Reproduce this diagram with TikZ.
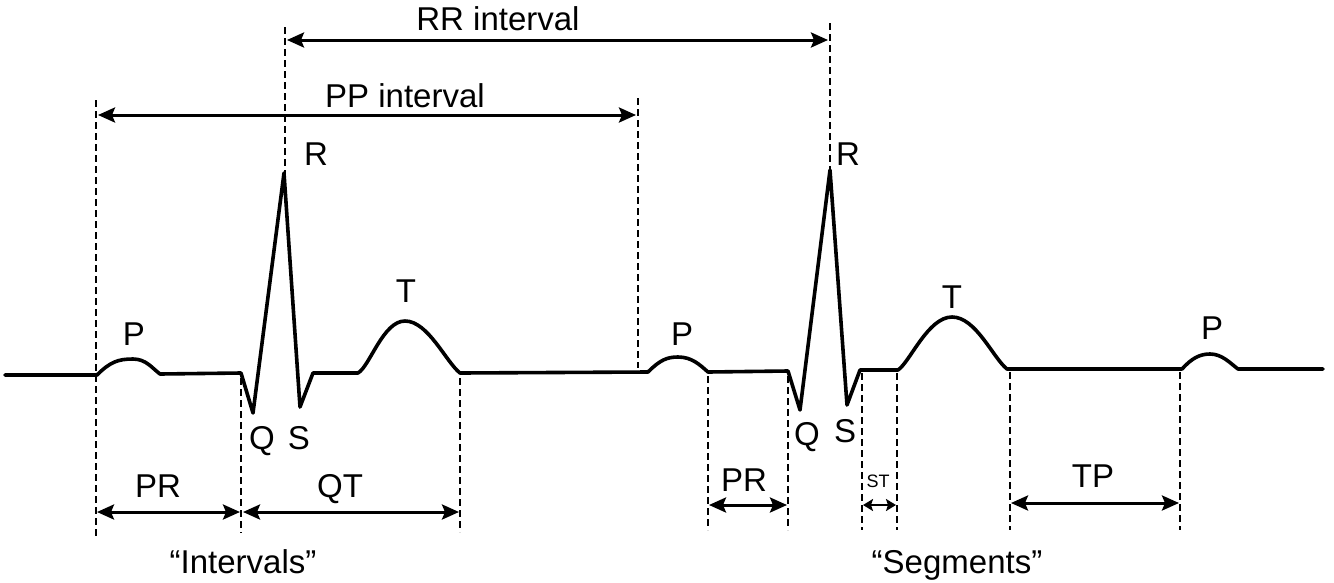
\documentclass[tikz,border=0pt]{standalone}
\usepackage{fontspec}
\setmainfont{Liberation Sans}
\usetikzlibrary{arrows.meta}
\begin{document}
\begin{tikzpicture}[x=1pt,y=-1pt,
  trace/.style={line width=3.6pt, line join=round, line cap=round},
  guide/.style={line width=1.7pt, dash pattern=on 7pt off 4pt},
  span/.style={line width=3pt, {Stealth[length=17pt,width=15pt,inset=3pt]}-{Stealth[length=17pt,width=15pt,inset=3pt]}},
  smallspan/.style={line width=2.8pt, {Stealth[length=10pt,width=12pt,inset=2pt]}-{Stealth[length=10pt,width=12pt,inset=2pt]}},
  lbl/.style={font=\fontsize{33}{38}\selectfont, inner sep=0pt, anchor=base},
  tiny/.style={font=\fontsize{18}{22}\selectfont, inner sep=0pt, anchor=base},
]
\useasboundingbox (0,0) rectangle (1334,582);

% ---- ECG trace ----
\draw[trace] (5,375) -- (97,375)
  .. controls (110,362) and (118,359) .. (133,359)
  .. controls (146,359) and (152,368) .. (160,374)
  -- (241,373) -- (253,413) -- (284,173) -- (300,407) -- (313,373) -- (358,373)
  .. controls (370,366) and (383,321) .. (405,321)
  .. controls (428,321) and (446,362) .. (460,373)
  -- (648,372)
  .. controls (660,360) and (667,357) .. (678,357)
  .. controls (692,357) and (700,365) .. (708,372)
  -- (788,371) -- (800,410) -- (830,170) -- (847,405) -- (860,370) -- (898,370)
  .. controls (910,362) and (928,317) .. (952,317)
  .. controls (976,317) and (993,358) .. (1007,369)
  -- (1182,369)
  .. controls (1192,358) and (1200,354) .. (1210,354)
  .. controls (1222,354) and (1230,363) .. (1238,369)
  -- (1323,369);

% ---- guide coordinates ----
\coordinate (g1t) at (96,100);   \coordinate (g1b) at (96,537);
\coordinate (g2t) at (241,378);  \coordinate (g2b) at (241,533);
\coordinate (g3t) at (460,378);  \coordinate (g3b) at (460,532);
\coordinate (g4t) at (285,27);   \coordinate (g4b) at (285,173);
\coordinate (g5t) at (638,98);   \coordinate (g5b) at (638,368);
\coordinate (g6t) at (830,23);   \coordinate (g6b) at (830,170);
\coordinate (g7t) at (708,376);  \coordinate (g7b) at (708,530);
\coordinate (g8t) at (788,376);  \coordinate (g8b) at (788,530);
\coordinate (g9t) at (862,373);  \coordinate (g9b) at (862,530);
\coordinate (g10t) at (897,373); \coordinate (g10b) at (897,530);
\coordinate (g11t) at (1010,372);\coordinate (g11b) at (1010,530);
\coordinate (g12t) at (1180,372);\coordinate (g12b) at (1180,530);
\foreach \i in {1,...,12} { \draw[guide] (g\i t) -- (g\i b); }

% ---- spans ----
\coordinate (rrL) at (287,40);  \coordinate (rrR) at (828,40);
\coordinate (ppL) at (98,115);  \coordinate (ppR) at (636,115);
\coordinate (pr1L) at (97,512); \coordinate (pr1R) at (240,512);
\coordinate (qtL) at (243,512); \coordinate (qtR) at (459,512);
\coordinate (pr2L) at (709,505);\coordinate (pr2R) at (787,505);
\coordinate (stL) at (863,505); \coordinate (stR) at (896,505);
\coordinate (tpL) at (1011,503);\coordinate (tpR) at (1179,503);
\draw[span] (rrL) -- (rrR);
\draw[span] (ppL) -- (ppR);
\draw[span] (pr1L) -- (pr1R);
\draw[span] (qtL) -- (qtR);
\draw[span] (pr2L) -- (pr2R);
\draw[smallspan] (stL) -- (stR);
\draw[span] (tpL) -- (tpR);

% ---- labels ----
\node[lbl] (rrlab) at (498,30) {RR interval};
\node[lbl] (pplab) at (405,107) {PP interval};
\node[lbl] (p1) at (134,345) {P};
\node[lbl] (r1) at (316,165) {R};
\node[lbl] (q1) at (262,449) {Q};
\node[lbl] (s1) at (299,449) {S};
\node[lbl] (t1) at (406,302) {T};
\node[lbl] (p2) at (682,345) {P};
\node[lbl] (r2) at (848,165) {R};
\node[lbl] (q2) at (807,445) {Q};
\node[lbl] (s2) at (845,442) {S};
\node[lbl] (t2) at (952,308) {T};
\node[lbl] (p3) at (1212,339) {P};
\node[lbl] (pr1) at (158,497) {PR};
\node[lbl] (qt) at (340,497) {QT};
\node[lbl] (pr2) at (744,491) {PR};
\node[tiny] (st) at (878,487) {ST};
\node[lbl] (tp) at (1093,487) {TP};
\node[lbl] (intv) at (243,573) {“Intervals”};
\node[lbl] (segm) at (957,573) {“Segments”};
\end{tikzpicture}
\end{document}
